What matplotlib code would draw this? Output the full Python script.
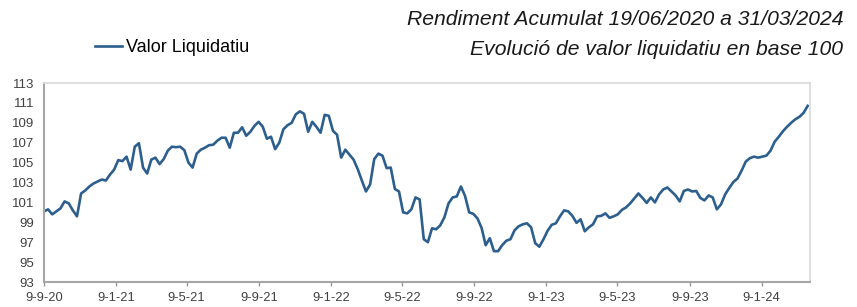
#Net asset value evolution, base 100
import pandas as pd
import matplotlib.pyplot as plt

plt.rcParams['font.family'] = ['Liberation Sans', 'DejaVu Sans']

#Weekly values
start_date = "2020-09-09"
end_date = "2024-03-27"
nav_values = [
    100.1, 100.3, 99.8, 100.1, 100.4, 101.1, 100.9, 100.2, 99.6, 101.9,
    102.2, 102.6, 102.9, 103.1, 103.3, 103.2, 103.8, 104.3, 105.25, 105.15,
    105.6, 104.3, 106.6, 106.95, 104.5, 103.9, 105.3, 105.5, 104.85, 105.35,
    106.2, 106.6, 106.55, 106.6, 106.25, 105.0, 104.5, 105.9, 106.3, 106.5,
    106.75, 106.8, 107.2, 107.5, 107.5, 106.5, 108.0, 108.0, 108.55, 107.7,
    108.1, 108.7, 109.1, 108.6, 107.4, 107.6, 106.35, 107.0, 108.35, 108.75,
    109.0, 109.85, 110.15, 109.9, 108.1, 109.1, 108.6, 108.0, 109.8, 109.7,
    108.2, 107.8, 105.5, 106.3, 105.8, 105.3, 104.35, 103.2, 102.1, 102.8,
    105.35, 105.9, 105.7, 104.45, 104.5, 102.35, 102.1, 100.0, 99.9, 100.3,
    101.5, 101.3, 97.3, 97.0, 98.4, 98.3, 98.7, 99.5, 100.9, 101.5,
    101.6, 102.6, 101.65, 100.0, 99.85, 99.4, 98.45, 96.7, 97.4, 96.1,
    96.1, 96.7, 97.15, 97.3, 98.2, 98.6, 98.8, 98.9, 98.5, 96.9,
    96.55, 97.3, 98.15, 98.75, 98.9, 99.6, 100.2, 100.1, 99.65, 98.95,
    99.3, 98.1, 98.5, 98.8, 99.6, 99.65, 99.9, 99.45, 99.6, 99.8,
    100.25, 100.5, 100.9, 101.4, 101.9, 101.45, 100.95, 101.5, 101.0, 101.8,
    102.3, 102.5, 102.1, 101.7, 101.1, 102.15, 102.3, 102.1, 102.15, 101.45,
    101.2, 101.7, 101.5, 100.3, 100.8, 101.8, 102.45, 103.05, 103.4, 104.2,
    105.1, 105.45, 105.6, 105.5, 105.6, 105.7, 106.2, 107.1, 107.6, 108.15,
    108.6, 109.0, 109.35, 109.6, 110.0, 110.7
]
tick_dates = [
    "2020-09-09", "2021-01-09", "2021-05-09", "2021-09-09", "2022-01-09",
    "2022-05-09", "2022-09-09", "2023-01-09", "2023-05-09", "2023-09-09",
    "2024-01-09"
]
y_ticks = list(range(93, 114, 2))

dates = pd.date_range(start_date, end_date, freq="7D")
df = pd.DataFrame({"date": dates, "nav": nav_values})

fig = plt.figure(figsize=(8.57, 3.07), dpi=100)
ax = fig.add_axes([0.0513, 0.0814, 0.8939, 0.6482])

ax.plot(df["date"], df["nav"], color="#2D5F8E", linewidth=1.9,
        label="Valor Liquidatiu")

ax.set_xlim(pd.Timestamp("2020-09-09"), pd.Timestamp("2024-03-31"))
ax.set_ylim(93, 113)
ax.set_yticks(y_ticks)
ticks = pd.to_datetime(tick_dates)
ax.set_xticks(ticks)
ax.set_xticklabels([f"{d.day}-{d.month}-{d.strftime('%y')}" for d in ticks])

ax.tick_params(axis="x", length=3, width=1, color="#999999",
               labelsize=9.3, labelcolor="#404040", pad=4)
ax.tick_params(axis="y", length=0, labelsize=9.5, labelcolor="#404040", pad=7)

for side in ["left", "bottom"]:
    ax.spines[side].set_color("#a6a6a6")
    ax.spines[side].set_linewidth(1.5)
for side in ["top", "right"]:
    ax.spines[side].set_color("#d9d9d9")
    ax.spines[side].set_linewidth(1.2)

fig.text(0.984, 0.935, "Rendiment Acumulat 19/06/2020 a 31/03/2024",
         ha="right", va="center", fontsize=15.2, style="italic", color="#1a1a1a")
fig.text(0.984, 0.84, "Evolució de valor liquidatiu en base 100",
         ha="right", va="center", fontsize=15.2, style="italic", color="#1a1a1a")

ax.legend(loc="center left", bbox_to_anchor=(0.111, 0.845),
          bbox_transform=fig.transFigure, frameon=False, fontsize=13,
          handlelength=1.5, handletextpad=0.2, borderaxespad=0,
          borderpad=0)

plt.savefig("out.png", dpi=100)
plt.close()
